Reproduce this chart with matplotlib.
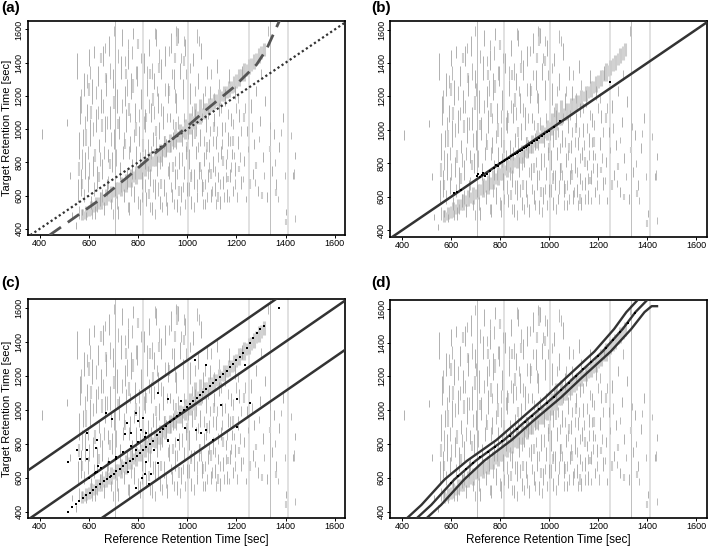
import numpy as np
import matplotlib.pyplot as plt

plt.rcParams['font.family'] = ['Liberation Sans', 'DejaVu Sans']

# ---- grey background: candidate peak segments (x, y0, y1), same in every panel
dark_x = [552, 556, 558, 562, 566, 570, 574, 578, 582, 588, 592, 596, 600,
          604, 608, 612, 616, 620, 624, 628, 632, 636, 640, 644, 648,
          652, 656, 660, 664, 668, 672, 676, 680, 684, 688, 692, 696,
          702, 706, 714, 718, 722, 726, 730, 734, 738, 742, 746,
          752, 756, 760, 764, 768, 772, 776, 780, 784, 788, 792, 796,
          802, 806, 810, 814, 822, 826, 830, 834, 838, 842, 846, 850,
          854, 858, 862, 866, 870, 874, 878, 882, 886, 890, 894, 898,
          902, 906, 910, 914, 918, 922, 926, 930, 934, 938, 942, 946,
          950, 954, 958, 962, 966, 970, 974, 978, 982, 986, 990, 994, 998,
          1006, 1010, 1014, 1018, 1022, 1026, 1030, 1034, 1038, 1042, 1046,
          1052, 1056, 1060, 1064, 1068, 1072, 1076, 1080, 1084, 1088, 1092, 1096,
          1104, 1108, 1112, 1116, 1120, 1124, 1128, 1132, 1136, 1140, 1146,
          1152, 1156, 1160, 1164, 1168, 1172, 1176, 1180, 1186, 1192, 1196,
          1206, 1212, 1218, 1224, 1232, 1238, 1244, 1258, 1266, 1272, 1280, 1288, 1296,
          1306, 1318, 1326, 1344, 1352, 1362, 1374, 1388, 1402, 1430, 1440,
          410, 512, 522, 530, 548]
dark_y0 = [1300, 560, 820, 1030, 600, 480, 900, 1200, 700, 450, 1050, 620, 1380,
           900, 520, 1150, 720, 1430, 460, 980, 640, 1260, 860, 540, 1100,
           700, 1380, 480, 920, 1200, 600, 800, 1440, 1000, 520, 740, 1250,
           880, 600, 1100, 460, 940, 700, 1300, 1500, 820, 560, 1140,
           980, 640, 1360, 480, 860, 1180, 700, 1540, 560, 1040, 780, 1260,
           900, 480, 1120, 640, 1340, 760, 980, 540, 1200, 820, 1440, 660,
           1040, 480, 900, 1240, 580, 1500, 720, 1100, 940, 520, 1300, 780,
           1000, 600, 1380, 840, 480, 1160, 700, 1040, 1460, 560, 880, 1240,
           640, 1100, 500, 1520, 760, 1300, 560, 900, 1180, 700, 1440, 820, 600,
           760, 1150, 520, 900, 1380, 640, 1040, 820, 560, 1240, 700,
           900, 1420, 600, 1120, 780, 520, 980, 1300, 680, 860, 1180, 560,
           740, 1020, 600, 880, 1340, 680, 1080, 520, 820, 960, 640,
           1140, 760, 560, 900, 1280, 680, 1020, 820, 600, 1180, 720,
           880, 1040, 640, 1300, 780, 560, 960, 1100, 700, 880, 1200, 600, 1020,
           800, 1140, 560, 720, 940, 640, 860, 1040, 480, 700, 820,
           940, 1020, 700, 460, 400]
dark_y1 = [1460, 700, 980, 1200, 760, 520, 1000, 1340, 860, 500, 1150, 720, 1480,
           1060, 600, 1300, 840, 1500, 540, 1120, 780, 1380, 940, 620, 1240,
           820, 1500, 560, 1080, 1330, 700, 880, 1560, 1140, 580, 860, 1360,
           1000, 680, 1240, 540, 1080, 800, 1440, 1600, 900, 640, 1260,
           1120, 760, 1480, 560, 960, 1340, 820, 1610, 660, 1160, 900, 1380,
           1020, 580, 1240, 740, 1460, 880, 1120, 620, 1300, 940, 1540, 760,
           1160, 560, 980, 1340, 700, 1600, 840, 1220, 1040, 600, 1420, 880,
           1140, 700, 1500, 940, 560, 1280, 800, 1100, 1580, 640, 980, 1360,
           760, 1220, 580, 1610, 860, 1400, 660, 1000, 1300, 780, 1540, 900, 680,
           880, 1280, 600, 1000, 1460, 760, 1120, 900, 620, 1340, 800,
           1000, 1520, 700, 1220, 860, 580, 1080, 1380, 760, 940, 1260, 640,
           840, 1100, 680, 960, 1420, 740, 1160, 600, 900, 1040, 720,
           1240, 820, 640, 980, 1360, 760, 1100, 880, 660, 1260, 800,
           960, 1120, 720, 1380, 840, 600, 1020, 1180, 760, 940, 1260, 660, 1080,
           860, 1200, 620, 780, 1000, 700, 920, 1100, 520, 740, 860,
           1000, 1060, 740, 500, 440]

# second batch of short dark segments
dark2_x = [561, 567, 573, 579, 585, 593, 597,
           602, 606, 611, 618, 622, 627, 634, 638, 646,
           654, 658, 662, 666, 674, 678, 686, 690, 698,
           704, 711, 716, 720, 724, 732, 736, 744, 748,
           754, 758, 762, 766, 770, 774, 782, 786, 790, 798,
           804, 808, 812, 816, 824, 828, 836, 840, 844, 848,
           852, 856, 860, 864, 868, 872, 876, 880, 884, 888, 892, 896,
           904, 908, 912, 916, 920, 924, 928, 932, 936, 940, 944, 948,
           952, 956, 960, 964, 972, 976, 980, 984, 988, 992, 996,
           1004, 1008, 1012, 1016, 1020, 1028, 1032, 1036, 1040, 1044, 1048,
           1054, 1058, 1062, 1066, 1070, 1074, 1078, 1082, 1086, 1090, 1094, 1098,
           1102, 1106, 1110, 1114, 1118, 1122, 1126, 1130, 1134, 1138, 1142, 1148,
           1154, 1158, 1162, 1166, 1170, 1174, 1178, 1184, 1188, 1194, 1198,
           1202, 1208, 1214, 1220, 1228, 1236, 1248, 1262, 1276, 1290, 1300, 1312,
           1330, 1338, 1356, 1368, 1380, 1396, 1420, 1440, 1436,
           700, 760, 870, 955, 985, 1040]
dark2_y0 = [460, 1100, 760, 560, 1000, 1250, 820,
            700, 1300, 460, 960, 600, 1180, 500, 1060, 780,
            560, 1100, 820, 1460, 1000, 640, 1300, 900, 460,
            1200, 780, 520, 1400, 1000, 620, 1100, 900, 1380,
            1200, 500, 820, 1040, 600, 1420, 920, 700, 1300, 520,
            1040, 780, 1400, 560, 1000, 620, 1300, 700, 1100, 500,
            820, 1300, 620, 1060, 460, 880, 1200, 600, 1400, 760, 1080, 500,
            880, 1200, 540, 1040, 720, 1440, 860, 620, 1300, 1000, 520, 780,
            1160, 880, 700, 1000, 480, 1400, 780, 620, 1040, 520, 1300,
            940, 600, 1340, 700, 1080, 500, 1200, 960, 620, 860, 1500,
            700, 1040, 520, 900, 1200, 640, 820, 560, 1060, 740, 960, 1300,
            600, 900, 1160, 720, 520, 960, 800, 1240, 640, 1100, 880, 560,
            980, 680, 820, 1060, 560, 900, 740, 1000, 820, 640, 1100,
            560, 1160, 800, 960, 680, 1100, 860, 980, 660, 920, 1300, 700,
            1560, 1000, 780, 560, 960, 700, 940, 440, 700,
            1560, 1480, 1540, 1560, 1500, 1520]
dark2_y1 = [540, 1240, 880, 640, 1080, 1330, 900,
            800, 1380, 520, 1040, 680, 1260, 560, 1140, 860,
            640, 1180, 900, 1520, 1080, 720, 1400, 980, 520,
            1280, 880, 600, 1480, 1060, 700, 1180, 980, 1440,
            1300, 560, 900, 1100, 680, 1500, 1000, 760, 1380, 600,
            1120, 860, 1460, 620, 1080, 700, 1380, 780, 1180, 560,
            900, 1400, 700, 1140, 520, 960, 1260, 680, 1480, 840, 1160, 560,
            960, 1280, 620, 1100, 780, 1500, 920, 680, 1360, 1060, 580, 840,
            1240, 940, 760, 1080, 540, 1460, 860, 680, 1100, 580, 1360,
            1000, 680, 1400, 760, 1140, 560, 1260, 1020, 700, 920, 1560,
            760, 1100, 580, 960, 1260, 700, 880, 620, 1120, 800, 1020, 1360,
            660, 960, 1220, 780, 580, 1020, 860, 1300, 700, 1160, 940, 620,
            1040, 740, 880, 1120, 600, 960, 800, 1060, 860, 700, 1160,
            620, 1220, 860, 1020, 720, 1160, 900, 1040, 700, 960, 1360, 740,
            1620, 1040, 820, 600, 1000, 740, 980, 480, 760,
            1620, 1540, 1610, 1620, 1560, 1600]

light_x = [560, 570, 590, 610, 625, 640, 655, 670, 685, 700, 718, 735, 748, 762,
           778, 790, 805, 818, 832, 845, 860, 872, 885, 895, 910, 925, 940, 955,
           968, 985, 1000, 1015, 1030, 1050, 1065, 1080, 1095, 1110, 1125, 1145,
           1165, 1185, 1210, 1230, 1255, 1280, 1305, 1335, 1360, 1400, 600, 650,
           750, 850, 950, 800, 960]
light_y0 = [720, 640, 900, 1060, 800, 680, 980, 1280, 760, 1120, 1000, 640, 880,
            1080, 1220, 960, 700, 860, 1040, 580, 1140, 960, 1340, 640, 900, 1200,
            740, 980, 600, 1380, 860, 680, 940, 740, 620, 860, 700, 980, 560, 780,
            680, 900, 740, 1040, 640, 760, 580, 860, 600, 420, 1200, 1400, 1300,
            1300, 1400, 1480, 1500]
light_y1 = [800, 700, 1000, 1140, 880, 740, 1060, 1340, 820, 1200, 1060, 700, 940,
            1160, 1300, 1040, 760, 940, 1100, 640, 1220, 1020, 1400, 700, 960, 1260,
            800, 1040, 660, 1440, 920, 740, 1000, 800, 680, 920, 760, 1040, 620, 840,
            720, 960, 780, 1100, 700, 800, 620, 900, 640, 460, 1280, 1460, 1360,
            1360, 1460, 1540, 1610]

# light band along the true alignment (two interleaved rows of streaks)
band_x = [570, 590, 610, 630, 650, 670, 690, 710, 730, 750, 770, 790, 810, 830,
          850, 870, 890, 910, 930, 950, 970, 990, 1010, 1030, 1050, 1070, 1090,
          1110, 1130, 1150, 1170, 1190, 1210, 1230, 1250, 1270, 1290, 1310]
band_lo = [450, 470, 480, 505, 520, 545, 560, 585, 600, 620, 650, 670, 700, 720,
           745, 775, 800, 830, 860, 890, 920, 940, 970, 1000, 1030, 1060, 1090,
           1120, 1140, 1170, 1195, 1225, 1260, 1290, 1330, 1360, 1400, 1440]
band_hi = [520, 540, 570, 590, 620, 640, 660, 680, 710, 730, 760, 780, 800, 830,
           860, 880, 910, 940, 970, 1000, 1030, 1060, 1100, 1160, 1180, 1160, 1190,
           1210, 1240, 1260, 1290, 1320, 1360, 1400, 1420, 1450, 1490, 1520]
band2_x = [580, 600, 620, 640, 660, 680, 700, 720, 740, 760, 780, 800, 820, 840,
           860, 880, 900, 920, 940, 960, 980, 1000, 1020, 1040, 1060, 1080, 1100,
           1120, 1140, 1160, 1180, 1200, 1220, 1240, 1260, 1280, 1300]
band2_lo = [460, 475, 500, 520, 545, 565, 590, 610, 630, 650, 680, 700, 730, 750,
            780, 800, 840, 860, 900, 920, 950, 970, 1000, 1030, 1060, 1090, 1110,
            1140, 1170, 1190, 1220, 1250, 1290, 1320, 1350, 1390, 1420]
band2_hi = [510, 545, 560, 590, 610, 630, 650, 680, 700, 720, 745, 770, 790, 820,
            840, 870, 900, 930, 960, 990, 1020, 1050, 1080, 1110, 1130, 1160, 1190,
            1210, 1230, 1260, 1290, 1330, 1360, 1390, 1430, 1460, 1500]

# full-height streaks
streak_dark = [708, 1335]
streak_light = [818, 1002, 1250, 1410]

# ---- panel (a): fitted curve
curve_a_x = [440, 538, 644, 760, 861, 970, 1078, 1186, 1282, 1322, 1376]
curve_a_y = [362, 464, 575, 715, 846, 977, 1118, 1249, 1389, 1480, 1656]

# ---- panel (b): anchor points
b_x = [614, 625, 640, 705, 712, 718, 725, 730, 738, 745, 760, 775, 785, 792, 800,
       808, 815, 822, 830, 838, 845, 852, 860, 868, 875, 882, 890, 898, 905, 912,
       920, 930, 940, 950, 960, 970, 980, 990, 1000, 1020, 1043, 1248]
b_y = [625, 632, 640, 722, 735, 718, 728, 740, 722, 735, 752, 772, 790, 785, 800,
       808, 812, 820, 826, 835, 842, 848, 856, 862, 866, 875, 882, 890, 898, 905,
       912, 922, 932, 942, 952, 962, 975, 985, 995, 1015, 1052, 1285]

# ---- panel (c): matched peaks and band offsets
c_x = [515, 533, 549, 560, 576, 590, 603, 615, 630, 644, 660, 672, 685, 700, 712,
       725, 740, 752, 765, 780, 795, 808, 820, 834, 848, 860, 875, 888, 900, 915,
       930, 945, 958, 970, 985, 998, 1010, 1023, 1038, 1050, 1064, 1078, 1092, 1105,
       1118, 1132, 1146, 1160, 1174, 1186, 1200, 1214, 1228, 1241, 1255, 1268, 1282,
       1295, 1310, 1371,
       515, 552, 563, 592, 592, 592, 631, 631, 671, 692, 712, 753, 773, 793, 820,
       834, 814, 793, 854, 864, 881, 922, 922, 963, 976, 990, 1030, 1034, 1055,
       1078, 1078, 1105, 1139, 1204, 1204, 1234, 1254, 629, 636, 629, 745, 799,
       810, 792, 832, 826, 758, 690, 711, 846, 880, 921,
       600, 625, 650, 680, 710, 740, 770, 800, 830]
c_y = [400, 424, 444, 460, 480, 496, 510, 525, 542, 560, 578, 590, 604, 622, 636,
       650, 668, 684, 696, 710, 728, 746, 762, 780, 800, 818, 850, 870, 888, 906,
       925, 944, 962, 980, 998, 1015, 1032, 1050, 1068, 1085, 1102, 1120, 1137, 1155,
       1172, 1190, 1210, 1228, 1248, 1270, 1290, 1312, 1336, 1360, 1390, 1420, 1448,
       1476, 1490, 1596,
       690, 760, 710, 860, 760, 710, 820, 630, 980, 944, 710, 920, 860, 980, 950,
       860, 600, 540, 620, 760, 1100, 820, 1060, 820, 1050, 890, 1290, 880, 860,
       1260, 880, 820, 1030, 1060, 900, 1264, 1040, 634, 668, 774, 858, 934,
       880, 764, 694, 624, 634, 608, 724, 564, 688, 814,
       600, 625, 655, 690, 720, 752, 785, 812, 838]
c_offsets = [-290, 0, 290]

# ---- panel (d): fitted curve with confidence band
d_mid_x = [460, 520, 614, 700, 816, 900, 1017, 1100, 1218, 1300, 1352, 1399]
d_mid_y = [360, 440, 590, 700, 823, 930, 1076, 1190, 1347, 1480, 1580, 1650]
d_up_x = [420, 480, 574, 665, 785, 870, 985, 1068, 1185, 1265, 1315, 1360]
d_up_y = [360, 440, 590, 700, 823, 930, 1076, 1190, 1347, 1480, 1580, 1650]
d_lo_x = [500, 560, 654, 735, 847, 930, 1049, 1132, 1251, 1335, 1389, 1418, 1440]
d_lo_y = [360, 440, 590, 700, 823, 930, 1076, 1190, 1347, 1480, 1580, 1615, 1615]
d_pts_x = [600, 630, 660, 690, 720, 750, 780, 810, 840, 870, 900, 930, 960, 990,
           1020, 1050, 1080, 1110, 1140, 1170, 1200, 1230, 1260, 1290, 1320, 1350]
d_pts_y = [568, 610, 650, 688, 720, 752, 785, 817, 850, 890, 930, 968, 1005, 1042,
           1080, 1120, 1162, 1203, 1243, 1283, 1322, 1366, 1414, 1462, 1518, 1576]

XLIM = (352, 1642)
YLIM = (362, 1652)
ticks = [400, 600, 800, 1000, 1200, 1400, 1600]


def background(ax):
    ax.vlines(streak_dark, YLIM[0], YLIM[1], color='#b4b4b4', lw=0.6, zorder=1)
    ax.vlines(streak_light, YLIM[0], YLIM[1], color='#dcdcdc', lw=1.2, zorder=1)
    ax.vlines(band_x, band_lo, band_hi, color='#cdcdcd', lw=2.2, zorder=1)
    ax.vlines(band2_x, band2_lo, band2_hi, color='#d2d2d2', lw=2.2, zorder=1)
    ax.vlines(light_x, light_y0, light_y1, color='#d0d0d0', lw=1.5, zorder=1)
    ax.vlines(dark_x, dark_y0, dark_y1, color='#a4a4a4', lw=0.6, zorder=2)
    ax.vlines(dark2_x, dark2_y0, dark2_y1, color='#b0b0b0', lw=0.6, zorder=2)
    ax.set_xlim(*XLIM)
    ax.set_ylim(*YLIM)
    ax.set_xticks(ticks)
    ax.set_yticks(ticks)
    ax.tick_params(labelsize=6.5, length=2, width=0.7, pad=1.0, colors='black')
    for lab in ax.get_yticklabels():
        lab.set_rotation(90)
        lab.set_va('center')
    for s in ax.spines.values():
        s.set_linewidth(1.2)


fig = plt.figure(figsize=(7.08, 5.48), dpi=100)
ax_a = fig.add_axes([0.0395, 0.571, 0.448, 0.391])
ax_b = fig.add_axes([0.551, 0.568, 0.447, 0.394])
ax_c = fig.add_axes([0.0395, 0.0547, 0.448, 0.400])
ax_d = fig.add_axes([0.551, 0.0547, 0.447, 0.398])

for ax in (ax_a, ax_b, ax_c, ax_d):
    background(ax)

# (a)
ax_a.axline((0, 0), slope=1, color='#333333', lw=1.6, ls=(0, (1, 1.2)), zorder=3)
ax_a.plot(curve_a_x, curve_a_y, color='#555555', lw=2.0, ls=(0, (5, 3)), zorder=3)

# (b)
ax_b.axline((0, 0), slope=1, color='#333333', lw=1.8, zorder=3)
ax_b.scatter(b_x, b_y, s=3, color='black', marker='s', lw=0, zorder=4)

# (c)
for off in c_offsets:
    ax_c.axline((0, off), slope=1, color='#333333', lw=1.8, zorder=3)
ax_c.scatter(c_x, c_y, s=4, color='black', marker='s', lw=0, zorder=4)

# (d)
for xs, ys in ((d_up_x, d_up_y), (d_mid_x, d_mid_y), (d_lo_x, d_lo_y)):
    ax_d.plot(xs, ys, color='#333333', lw=1.7, zorder=3)
ax_d.scatter(d_pts_x, d_pts_y, s=4, color='black', marker='s', lw=0, zorder=4)

# axis titles placed like the original
for ax in (ax_a, ax_c):
    bb = ax.get_position()
    fig.text(0.0095, (bb.y0 + bb.y1) / 2, 'Target Retention Time [sec]',
             rotation=90, ha='center', va='center', fontsize=8)
for ax in (ax_c, ax_d):
    bb = ax.get_position()
    fig.text((bb.x0 + bb.x1) / 2, 0.004, 'Reference Retention Time [sec]',
             ha='center', va='bottom', fontsize=8.5)

for lab, (x, y) in zip(['(a)', '(b)', '(c)', '(d)'],
                       [(0.002, 0.998), (0.524, 0.998), (0.002, 0.497), (0.524, 0.497)]):
    fig.text(x, y, lab, fontsize=11, fontweight='bold', ha='left', va='top')

fig.savefig('out.png', dpi=100)
